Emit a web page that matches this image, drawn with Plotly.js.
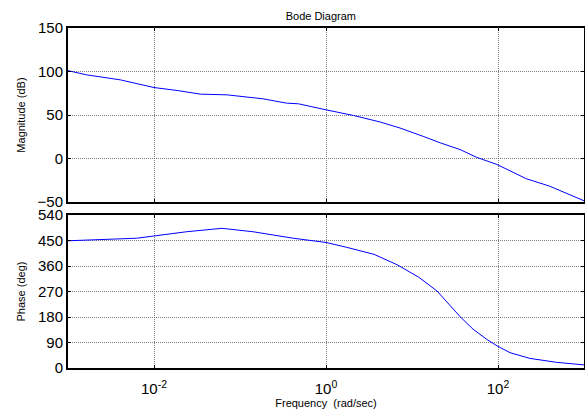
<!DOCTYPE html>
<html>
<head>
<meta charset="utf-8">
<script src="https://cdn.plot.ly/plotly-3.0.1.min.js"></script>
<style>html,body{margin:0;padding:0;background:#fff;}#chart{width:585px;height:409px;}</style>
</head>
<body>
<div id="chart"></div>
<script>
// log10 of frequency (rad/sec) for magnitude samples
const magLogW = [-3, -2.78, -2.39, -2, -1.73, -1.46, -1.15, -1.0, -0.73, -0.46, -0.32, 0, 0.32, 0.63, 0.86, 1.13, 1.33, 1.56, 1.75, 1.99, 2.33, 2.6, 3.0];
const magDb   = [101, 96.1, 90.4, 81.6, 78.2, 74, 73.2, 71.3, 68.6, 63.7, 62.9, 56, 49.5, 42, 35.1, 25.5, 18, 10.3, 1.5, -6.9, -23.2, -31.7, -48.5];
// log10 of frequency for phase samples
const phLogW = [-3, -2.7, -2.2, -2, -1.62, -1.21, -0.85, -0.38, 0, 0.24, 0.56, 0.83, 1.08, 1.29, 1.44, 1.56, 1.71, 1.87, 1.99, 2.14, 2.37, 2.68, 3.0];
const phDeg  = [449, 452, 458, 466, 481, 493, 481, 458, 443, 426, 401, 364, 320, 272, 222, 181, 137, 101, 78, 54, 34, 20, 11];

const magTicks = [-50, 0, 50, 100, 150];
const phTicks = [0, 90, 180, 270, 360, 450, 540];
const freqTicks = [0.01, 1, 100];
const freqTickText = ['10<sup>-2</sup>', '10<sup>0</sup>', '10<sup>2</sup>'];

const toW = a => a.map(v => Math.pow(10, v));

const font = 'Liberation Sans, Arial, sans-serif';
const gridCommon = {
  showline: true, mirror: 'ticks', linecolor: '#000', linewidth: 2,
  ticks: 'inside', ticklen: 3, tickcolor: '#000',
  showgrid: true, gridcolor: '#808080', griddash: '1px,1px', gridwidth: 1,
  zeroline: false, tickfont: {family: font, size: 15, color: '#000'}
};

const data = [
  {x: toW(magLogW), y: magDb, xaxis: 'x', yaxis: 'y', mode: 'lines', line: {color: '#0000ff', width: 1}},
  {x: toW(phLogW), y: phDeg, xaxis: 'x2', yaxis: 'y2', mode: 'lines', line: {color: '#0000ff', width: 1}}
];

const layout = {
  width: 585, height: 409,
  margin: {l: 68, r: 1, t: 28, b: 41},
  paper_bgcolor: '#fff', plot_bgcolor: '#fff',
  showlegend: false,
  font: {family: font, color: '#000'},
  title: {text: 'Bode Diagram', font: {family: font, size: 11, color: '#000'}, x: 0.49, xref: 'paper', xanchor: 'center', y: 1 - 16/409, yref: 'container', yanchor: 'middle'},
  xaxis: Object.assign({}, gridCommon, {type: 'log', range: [-3, 3], domain: [0, 1], anchor: 'y', tickvals: freqTicks, ticktext: freqTickText, showticklabels: false}),
  yaxis: Object.assign({}, gridCommon, {domain: [0.488, 1], range: [-50, 150], tickvals: magTicks, anchor: 'x',
    title: {text: 'Magnitude (dB)', font: {family: font, size: 11, color: '#000'}, standoff: 10}}),
  xaxis2: Object.assign({}, gridCommon, {type: 'log', range: [-3, 3], domain: [0, 1], anchor: 'y2', tickvals: freqTicks, ticktext: freqTickText, ticklabelstandoff: 6,
    title: {text: 'Frequency  (rad/sec)', font: {family: font, size: 11, color: '#000'}, standoff: 2}}),
  yaxis2: Object.assign({}, gridCommon, {domain: [0, 0.45], range: [0, 540], tickvals: phTicks, anchor: 'x2',
    title: {text: 'Phase (deg)', font: {family: font, size: 11, color: '#000'}, standoff: 10}})
};

Plotly.newPlot('chart', data, layout, {staticPlot: true, displayModeBar: false});
</script>
</body>
</html>
